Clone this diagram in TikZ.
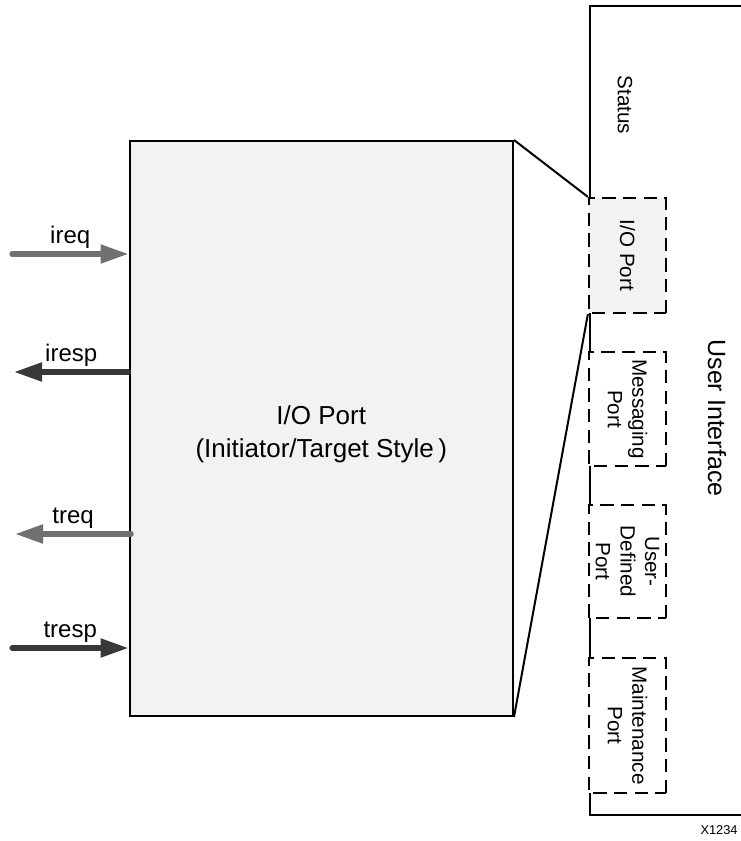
\documentclass[tikz,border=0pt]{standalone}
\usepackage{fontspec}
\setmainfont{Liberation Sans}
\usetikzlibrary{arrows.meta,positioning}
\definecolor{panel}{RGB}{242,242,242}
\definecolor{wire}{RGB}{112,112,112}
\definecolor{darkwire}{RGB}{56,56,56}
\definecolor{ink}{RGB}{0,0,0}
\tikzset{
  >={Triangle[length=21pt,width=13.5pt]},
  core/.style={draw=ink,fill=panel,line width=1.5pt,inner sep=0pt,
    minimum width=287.6pt,minimum height=431.25pt},
  coretag/.style={align=center,inner sep=0pt,font=\fontsize{19.5}{24.5}\selectfont},
  shell/.style={draw=ink,line width=1.5pt,inner sep=0pt,
    minimum width=150pt,minimum height=606.4pt},
  port/.style={draw=ink,fill=#1,line width=1.7pt,dash pattern=on 10pt off 5.5pt,
    rotate=-90,minimum height=57.75pt,inner sep=0pt,align=center,
    font=\fontsize{15.5}{18.5}\selectfont},
  port/.default=white,
  sig/.style={->,line width=3.9pt,line cap=round,draw=#1},
  sig/.default=wire,
  sigtag/.style={font=\fontsize{18}{20}\selectfont,above=2pt,inner sep=0pt},
  sidetag/.style={rotate=-90,inner sep=0pt,font=\fontsize{#1}{#1}\selectfont},
  sidetag/.default=15.5,
  edge/.style={draw=ink,line width=1.5pt},
}

\begin{document}
\begin{tikzpicture}[x=0.75pt,y=-0.75pt]
    \useasboundingbox (0,0) rectangle (741,841);
    % user side
    \node[shell,anchor=north west] (ui) at (588.5,5.5) {};
    \node[sidetag] (status) at (625,105) {Status};
    \node[sidetag=18.75] (uitag) at (717,418) {User Interface};
    \foreach \nm/\t/\yc/\h/\f in {ioport/{I/O Port}/255.5/86.25pt/panel,
        msgport/{Messaging\\Port}/409/85.5pt/white,
        udport/{User-\\Defined\\Port}/561.5/84.75pt/white,
        mntport/{Maintenance\\Port}/725.5/101.25pt/white}
      \node[port=\f,minimum width=\h] (\nm) at (627.5,\yc) {\t};
    % core block
    \node[core,anchor=north west] (core) at (128.5,140) {};
    \node[coretag] (coretext) at ([yshift=-4.5pt]core.center) {I/O Port\\(Initiator/Target Style\,)};
    \draw[edge] (core.north east) -- (ioport.south west);
    \draw[edge] (core.south east) -- (ioport.south east);
    % signals
    \coordinate (ireq) at (12,254);
    \coordinate (iresp) at (14,372);
    \coordinate (treq) at (15,534);
    \coordinate (tresp) at (12,648);
    \draw[sig] (ireq) -- node[sigtag] {ireq} (ireq -| core.west);
    \draw[sig=darkwire] (iresp -| core.west) -- node[sigtag] {iresp} (iresp);
    \draw[sig] ([xshift=2]treq -| core.west) -- node[sigtag] {treq} (treq);
    \draw[sig=darkwire] (tresp) -- node[sigtag] {tresp} (tresp -| core.west);
    \node[font=\fontsize{9.6}{10}\selectfont] (fig) at (719,830) {X1234};
\end{tikzpicture}
\end{document}
